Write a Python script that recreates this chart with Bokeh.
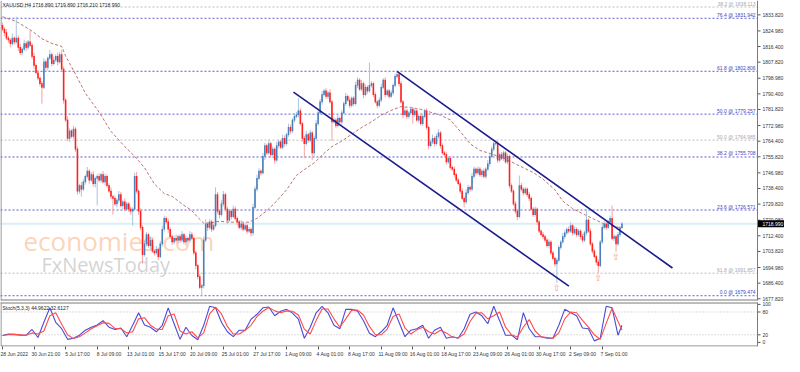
from bokeh.plotting import figure
from bokeh.layouts import column
from bokeh.models import ColumnDataSource, Label, FixedTicker, Range1d
from bokeh.core.properties import value
from bokeh.embed import file_html
from bokeh.resources import INLINE

# ---------------- data (XAUUSD H4) ----------------
first_open = 1828.0
closes = [
    1826, 1824, 1821, 1820, 1818, 1821, 1819, 1821, 1816, 1813,
    1815, 1818, 1816, 1819, 1817, 1811, 1806, 1802, 1799, 1796,
    1794, 1808, 1805, 1810, 1812, 1807, 1809, 1811, 1808, 1812,
    1804, 1787, 1776, 1766, 1770, 1767, 1771, 1760, 1737, 1740,
    1738, 1742, 1745, 1748, 1743, 1746, 1741, 1744, 1745, 1743,
    1746, 1742, 1745, 1740, 1737, 1734, 1733, 1730, 1732, 1735,
    1729, 1731, 1727, 1730, 1727, 1726, 1727, 1745, 1737, 1726,
    1717, 1702, 1708, 1713, 1707, 1710, 1704, 1703, 1705, 1701,
    1708, 1716, 1722, 1720, 1716, 1712, 1709, 1711, 1710, 1712,
    1710, 1713, 1709, 1711, 1710, 1713, 1711, 1703, 1696, 1690,
    1684, 1685, 1710, 1719, 1717, 1720, 1716, 1718, 1735, 1726,
    1724, 1730, 1735, 1727, 1721, 1726, 1723, 1727, 1722, 1720,
    1717, 1719, 1716, 1718, 1715, 1716, 1714, 1728, 1738, 1744,
    1748, 1747, 1756, 1762, 1758, 1763, 1757, 1760, 1754, 1762,
    1764, 1761, 1766, 1763, 1768, 1772, 1770, 1776, 1778, 1779,
    1781, 1774, 1766, 1763, 1768, 1765, 1769, 1758, 1766, 1774,
    1780, 1786, 1790, 1792, 1789, 1791, 1786, 1775, 1776, 1773,
    1777, 1775, 1780, 1785, 1789, 1787, 1784, 1788, 1785, 1795,
    1798, 1793, 1796, 1790, 1794, 1792, 1795, 1796, 1790, 1786,
    1784, 1787, 1794, 1798, 1790, 1792, 1789, 1791, 1795, 1800,
    1801, 1796, 1786, 1779, 1781, 1778, 1780, 1782, 1779, 1781,
    1776, 1778, 1774, 1778, 1781, 1772, 1762, 1764, 1766, 1763,
    1767, 1769, 1762, 1758, 1757, 1753, 1755, 1750, 1749, 1746,
    1743, 1741, 1737, 1733, 1731, 1736, 1739, 1738, 1745, 1749,
    1747, 1749, 1746, 1748, 1745, 1749, 1752, 1756, 1760, 1763,
    1763, 1754, 1757, 1755, 1758, 1753, 1756, 1740, 1737, 1730,
    1726, 1723, 1740, 1738, 1736, 1738, 1735, 1733, 1727, 1724,
    1727, 1720, 1715, 1713, 1712, 1710, 1707, 1709, 1703, 1700,
    1697, 1699, 1706, 1709, 1712, 1714, 1716, 1715, 1718, 1714,
    1716, 1713, 1715, 1712, 1710, 1714, 1721, 1715, 1708, 1704,
    1701, 1698, 1696, 1709, 1717, 1719, 1717, 1720, 1722, 1711,
    1712, 1708, 1713, 1716.89, 1718.99]
wick_up = [
    1.5, 1.0, 2.0, 1.2, 0.8, 2.5, 1.0, 11.8, 1.5, 2.0,
    1.0, 2.2, 1.5, 1.0, 6.0, 1.2, 2.0, 1.0, 1.5, 0.8,
    1.5, 2.0, 1.2, 1.0, 2.5, 1.0, 1.8, 1.2, 2.0, 1.5,
    2.5, 1.5, 1.0, 2.0, 1.5, 1.0, 2.0, 1.2, 1.5, 1.0,
    2.0, 1.5, 1.0, 2.2, 1.0, 1.5, 2.0, 1.0, 1.2, 1.8,
    1.0, 2.0, 1.5, 1.0, 1.2, 2.0, 1.0, 1.5, 1.0, 2.0,
    1.5, 1.0, 2.0, 1.2, 1.0, 1.5, 1.0, 2.0, 2.5, 1.0,
    1.5, 1.2, 2.0, 1.5, 1.0, 2.0, 1.2, 1.0, 1.8, 1.0,
    1.5, 2.0, 1.5, 1.0, 2.0, 1.2, 1.0, 1.5, 2.0, 1.0,
    1.2, 2.0, 1.0, 1.5, 1.0, 2.0, 1.5, 1.0, 1.2, 1.0,
    1.5, 1.0, 2.0, 2.5, 1.0, 1.5, 1.2, 1.0, 4.0, 1.5,
    1.0, 2.0, 2.0, 1.0, 1.5, 1.2, 1.0, 2.0, 1.5, 1.0,
    1.2, 2.0, 1.0, 1.5, 1.0, 1.2, 1.0, 2.0, 1.5, 2.0,
    1.5, 1.0, 2.0, 1.5, 1.0, 2.5, 1.0, 1.5, 1.0, 2.0,
    1.2, 1.0, 2.0, 1.5, 1.0, 2.0, 1.5, 1.0, 2.0, 1.5,
    7.0, 1.5, 1.0, 1.2, 2.0, 1.0, 1.5, 1.0, 1.5, 2.0,
    1.0, 1.5, 2.0, 1.0, 1.5, 1.0, 2.0, 1.0, 1.5, 1.0,
    2.0, 1.0, 1.5, 1.2, 2.0, 1.0, 1.5, 1.0, 1.2, 2.0,
    1.5, 1.0, 2.0, 1.0, 1.5, 1.0, 12.6, 1.5, 1.0, 1.2,
    1.0, 1.5, 2.0, 1.0, 1.5, 1.0, 1.2, 1.5, 1.0, 1.5,
    1.8, 1.0, 1.5, 1.0, 2.0, 1.2, 1.0, 1.5, 1.0, 1.2,
    1.5, 1.0, 2.0, 1.0, 1.2, 1.5, 1.0, 1.2, 2.0, 1.0,
    1.5, 2.0, 1.0, 1.2, 1.0, 1.5, 1.0, 1.2, 1.0, 1.5,
    1.0, 1.2, 1.0, 1.5, 1.0, 2.0, 1.5, 1.0, 2.0, 1.5,
    1.0, 1.5, 1.2, 1.0, 1.5, 1.0, 2.0, 1.2, 1.5, 1.0,
    2.0, 1.5, 1.0, 1.5, 1.2, 1.0, 1.5, 1.0, 1.2, 1.0,
    1.5, 1.0, 5.5, 1.5, 1.0, 1.2, 1.0, 1.5, 1.0, 1.2,
    1.5, 1.0, 1.2, 1.0, 1.5, 1.0, 1.2, 1.5, 1.0, 1.2,
    1.0, 1.5, 1.2, 1.0, 2.0, 1.5, 1.0, 1.5, 2.0, 1.0,
    1.5, 1.0, 1.2, 1.0, 1.5, 1.2, 6.0, 1.0, 1.5, 1.0,
    1.2, 1.0, 1.5, 1.2, 2.0, 1.5, 1.0, 1.2, 1.5, 7.0,
    1.2, 1.0, 1.5, 1.0, 0.9]
wick_dn = [
    1.2, 2.0, 1.0, 1.5, 2.0, 1.0, 1.5, 1.0, 2.0, 1.2,
    1.5, 1.0, 2.0, 1.2, 1.0, 1.5, 2.0, 1.0, 1.2, 1.5,
    9.0, 1.0, 1.5, 2.0, 1.0, 1.5, 1.0, 1.2, 2.0, 1.0,
    1.5, 2.0, 1.0, 1.5, 2.0, 1.0, 1.2, 1.5, 2.0, 1.5,
    4.0, 1.0, 1.5, 1.2, 2.0, 1.0, 1.5, 2.0, 15.0, 1.0,
    1.5, 1.0, 2.0, 1.2, 1.0, 1.5, 9.0, 1.0, 2.0, 1.5,
    1.0, 2.0, 1.2, 1.0, 1.5, 2.0, 8.0, 1.0, 1.5, 2.0,
    1.5, 5.0, 1.0, 1.5, 1.2, 2.0, 1.0, 1.5, 1.0, 2.0,
    1.0, 1.5, 1.2, 1.0, 2.0, 1.0, 1.5, 1.2, 1.0, 2.0,
    1.5, 1.0, 1.2, 2.0, 1.0, 1.5, 1.0, 1.2, 2.0, 1.5,
    1.0, 4.5, 1.5, 1.0, 2.0, 1.2, 1.5, 1.0, 1.0, 1.5,
    2.0, 1.0, 1.5, 1.2, 2.0, 1.0, 1.5, 1.0, 1.2, 2.0,
    1.0, 1.5, 1.2, 1.0, 1.5, 1.0, 2.0, 1.5, 1.0, 1.2,
    1.0, 1.5, 1.0, 2.0, 1.2, 1.0, 1.5, 1.0, 2.0, 1.2,
    1.5, 1.0, 1.2, 1.5, 1.0, 1.2, 1.5, 1.0, 1.2, 1.0,
    1.5, 1.0, 2.0, 8.0, 1.0, 1.5, 1.0, 4.0, 1.5, 1.0,
    1.2, 1.0, 1.5, 1.0, 1.2, 1.5, 1.0, 10.5, 1.0, 1.5,
    1.0, 1.2, 1.5, 1.0, 1.2, 1.0, 1.5, 1.0, 1.2, 1.0,
    1.5, 1.0, 1.2, 2.0, 1.0, 1.5, 1.0, 1.2, 1.5, 1.0,
    1.5, 1.0, 1.2, 1.0, 1.5, 1.0, 1.2, 1.0, 1.5, 1.0,
    1.2, 1.5, 1.0, 2.0, 1.0, 1.5, 1.2, 1.0, 5.0, 1.2,
    1.0, 1.5, 1.0, 1.2, 1.0, 1.5, 2.0, 1.0, 1.2, 1.5,
    1.0, 1.2, 1.5, 1.0, 1.2, 1.5, 1.0, 1.2, 1.0, 1.5,
    1.2, 1.0, 1.5, 1.0, 3.0, 1.2, 1.0, 1.5, 1.0, 1.2,
    1.5, 1.0, 1.2, 1.5, 1.0, 1.2, 1.0, 1.5, 1.0, 1.2,
    1.0, 1.5, 1.2, 1.0, 1.5, 1.0, 1.2, 1.5, 1.0, 1.2,
    1.5, 2.0, 1.0, 1.2, 1.5, 1.0, 1.2, 1.5, 1.0, 1.2,
    1.0, 1.5, 1.2, 1.0, 1.5, 1.2, 1.0, 1.5, 1.2, 1.0,
    1.5, 10.5, 1.0, 1.2, 1.0, 1.5, 1.0, 1.2, 1.0, 1.5,
    1.0, 1.2, 1.0, 1.5, 1.2, 1.0, 1.5, 1.0, 1.2, 1.5,
    1.0, 1.5, 4.1, 1.0, 1.2, 1.0, 1.5, 1.0, 1.2, 1.0,
    1.5, 4.4, 1.0, 1.2, 0.68]

ma_bars = [0, 7, 15, 20, 25, 30, 32, 37, 42, 49, 55, 62, 67, 72, 77, 82, 86, 91, 96, 99,
           102, 105, 110, 115, 120, 125, 129, 134, 139, 144, 149, 153, 158, 163, 167, 172,
           177, 182, 187, 192, 197, 202, 207, 212, 217, 222, 227, 232, 237, 242, 247, 254,
           259, 264, 269, 274, 280, 284, 289, 294, 299, 304, 308, 314]
ma_vals = [1832.8, 1830.2, 1824.9, 1820.7, 1818.1, 1816.5, 1811.2, 1801.3, 1790.8, 1780.3,
           1769.8, 1761.4, 1756.1, 1749.8, 1740.9, 1735.6, 1734.1, 1729.9, 1726.2, 1722.5,
           1719.4, 1719.4, 1720.4, 1719.9, 1719.9, 1719.9, 1722.0, 1726.2, 1731.5, 1737.7,
           1745.6, 1748.8, 1752.5, 1757.7, 1761.4, 1764.5, 1768.2, 1771.9, 1775.0, 1778.7,
           1781.3, 1783.4, 1782.9, 1781.9, 1780.3, 1778.7, 1776.1, 1769.8, 1763.0, 1759.3,
           1757.7, 1755.1, 1752.5, 1749.8, 1747.2, 1743.5, 1737.7, 1731.5, 1727.3, 1724.6,
           1722.0, 1719.4, 1717.8, 1716.8]

stoch_bars = list(range(0, 313, 3)) + [314]
stoch_k = [18, 22, 21, 19, 19, 34, 13, 53, 91, 53,
           36, 8, 11, 19, 32, 40, 46, 57, 40, 34,
           38, 15, 45, 78, 46, 40, 28, 45, 91, 49,
           8, 40, 18, 7, 45, 95, 91, 53, 28, 15,
           32, 32, 61, 74, 91, 93, 70, 82, 87, 77,
           61, 11, 40, 78, 95, 78, 45, 36, 87, 87,
           82, 57, 24, 15, 28, 45, 91, 53, 15, 32,
           36, 45, 11, 32, 40, 11, 15, 11, 36, 74,
           80, 70, 49, 95, 57, 19, 19, 7, 78, 36,
           15, 15, 11, 11, 45, 87, 78, 70, 38, 36,
           4, 11, 95, 91, 19, 44.96]
stoch_d = [18, 20, 21, 20, 19, 25, 22, 30, 70, 78,
           48, 20, 10, 15, 25, 36, 44, 52, 50, 37,
           36, 25, 28, 62, 65, 45, 35, 34, 70, 75,
           30, 22, 28, 12, 25, 75, 93, 75, 42, 22,
           22, 32, 45, 68, 82, 92, 83, 78, 83, 82,
           72, 35, 22, 58, 88, 88, 62, 40, 62, 85,
           85, 72, 42, 20, 20, 35, 68, 75, 38, 22,
           33, 40, 28, 22, 32, 25, 14, 12, 22, 55,
           77, 78, 62, 70, 80, 40, 20, 14, 40, 60,
           30, 15, 13, 11, 25, 62, 80, 78, 58, 40,
           20, 8, 50, 90, 55, 32.61]

price_ticks = [1677.82, 1686.40, 1694.98, 1703.82, 1712.40, 1720.98, 1729.82, 1738.40,
               1746.98, 1755.82, 1764.40, 1772.98, 1781.82, 1790.40, 1798.98, 1807.82,
               1816.40, 1824.98, 1833.82]
date_bars = [0, 16, 32, 48, 64, 80, 96, 112, 128, 144, 160, 176, 192, 208, 224, 240,
             256, 272, 288, 304]
date_labels = ["28 Jun 2022", "30 Jun 21:00", "5 Jul 17:00", "8 Jul 09:00", "13 Jul 01:00",
               "15 Jul 17:00", "20 Jul 09:00", "25 Jul 01:00", "27 Jul 17:00", "1 Aug 09:00",
               "4 Aug 01:00", "8 Aug 17:00", "11 Aug 09:00", "16 Aug 01:00", "18 Aug 17:00",
               "23 Aug 09:00", "26 Aug 01:00", "30 Aug 17:00", "2 Sep 09:00", "7 Sep 01:00"]

fib_levels = [1831.942, 1802.806, 1779.257, 1755.708, 1726.571, 1679.474]
fib_texts = ["76.4 @ 1831.942", "61.8 @ 1802.806", "50.0 @ 1779.257",
             "38.2 @ 1755.708", "23.6 @ 1726.571", "0.0 @ 1679.474"]
fib2_levels = [1838.113, 1764.985, 1691.857]
fib2_texts = ["38.2 @ 1838.113", "50.0 @ 1764.985", "61.8 @ 1691.857"]

upper_channel_x = [200, 339.6]
upper_channel_y = [1802.8, 1694.7]
lower_channel_x = [147.5, 287.1]
lower_channel_y = [1791.3, 1684.7]
fractal_bars = [281, 302, 311]
bid_price = 1718.99
bid_text = "1718.990"
stoch_levels = [20, 80]
stoch_ticks = [0, 20, 80, 100]

assert len(closes) == len(wick_up) == len(wick_dn) == 315
assert len(stoch_k) == len(stoch_d) == len(stoch_bars)

# ---------------- derived candle table ----------------
opens = [first_open] + closes[:-1]
idx = list(range(len(closes)))
highs = [max(o, c) + u for o, c, u in zip(opens, closes, wick_up)]
lows = [min(o, c) - d for o, c, d in zip(opens, closes, wick_dn)]
bull = [c >= o for o, c in zip(opens, closes)]
src = ColumnDataSource(dict(
    i=idx, o=opens, c=closes, h=highs, l=lows,
    top=[max(o, c) + 0.2 for o, c in zip(opens, closes)],
    bot=[min(o, c) - 0.2 for o, c in zip(opens, closes)],
    body=["#4a7fba" if b else "#ff2020" for b in bull],
    wick=["#a9c4e2" if b else "#f6a3a3" for b in bull],
))

# ---------------- geometry ----------------
FONT = "Liberation Sans"
TOTAL_W = 784           # whole canvas width (plot area + price scale)
PLOT_W = 757            # width of the chart area left of the price scale
X0, PLOT_END = -1.0, 382.7
PPB = PLOT_W / (PLOT_END - X0)            # pixels per bar
X_END = X0 + TOTAL_W / PPB
Y0, Y1 = 1676.85, 1841.7                   # chart window (border at Y0)
PPY = 300 / (Y1 - Y0)
MAIN_H = 301                               # 1px of room under the border
S_H = 45
SY0, SY1 = -10.8, 105.0                    # stochastic window (border at SY1)
SPPY = 44 / (SY1 - SY0)
BORDER = "#7a7a7a"
TICK_DX = 3 / PPB
LAB_DX = 5 / PPB

XR = Range1d(X0, X_END)


def price_scale(fig, ticks, labels, ylo, yhi, ppy, top_border=False):
    """MetaTrader-like price scale drawn right of the chart area."""
    n = len(ticks)
    fig.segment(x0=[PLOT_END] * n, x1=[PLOT_END + TICK_DX] * n, y0=ticks, y1=ticks,
                line_color="#555555", line_width=1)
    fig.text(x=[PLOT_END + LAB_DX] * n, y=ticks, text=labels, text_align="left",
             text_baseline="middle", text_font=value(FONT), text_font_size="5px",
             text_color="#333333")
    hx = 0.5 / PPB
    hy = 0.5 / ppy
    xs0 = [X0 + hx, X0 + hx, PLOT_END]
    xs1 = [X0 + hx, PLOT_END, PLOT_END]
    ys0 = [ylo, ylo + hy, ylo]
    ys1 = [yhi, ylo + hy, yhi]
    if top_border:
        xs0.append(X0)
        xs1.append(PLOT_END)
        ys0.append(yhi - hy)
        ys1.append(yhi - hy)
    fig.segment(x0=xs0, x1=xs1, y0=ys0, y1=ys1, line_color=BORDER, line_width=1)


# ---------------- main chart ----------------
p = figure(frame_width=TOTAL_W, frame_height=MAIN_H, x_range=XR,
           y_range=Range1d(Y0 - 1 / PPY, Y1),
           output_backend="svg", toolbar_location=None, x_axis_location=None,
           y_axis_location=None, min_border=0,
           background_fill_color="white", border_fill_color="white",
           outline_line_color=None)
p.grid.visible = False

# watermark
p.add_layout(Label(x=23, y=43, x_units="screen", y_units="screen", text="economies.com",
                   text_font="Open Sans", text_font_size="26px", text_color="#fbcdae",
                   text_alpha=0.85, level="underlay"))
p.add_layout(Label(x=41, y=24, x_units="screen", y_units="screen", text="FxNewsToday",
                   text_font="Open Sans", text_font_size="20px", text_color="#cccccc",
                   text_alpha=0.85, level="underlay"))

# bid line and fibonacci levels (limited to the chart area)
p.segment(x0=[X0], x1=[PLOT_END], y0=[bid_price], y1=[bid_price], line_color="#d9eff5",
          line_width=2)
nf, nf2 = len(fib_levels), len(fib2_levels)
p.segment(x0=[X0] * nf, x1=[PLOT_END] * nf, y0=fib_levels, y1=fib_levels,
          line_color="#5d5dd0", line_width=1, line_dash="2 2")
p.segment(x0=[X0] * nf2, x1=[PLOT_END] * nf2, y0=fib2_levels, y1=fib2_levels,
          line_color="#bdbdbd", line_width=1, line_dash="2 2")
x_lab = PLOT_END - 1.0
p.text(x=[x_lab] * nf, y=fib_levels, text=fib_texts, text_align="right",
       text_baseline="bottom", text_font=value(FONT), text_font_size="5px",
       text_color="#4343c0", y_offset=-0.5)
p.text(x=[x_lab] * nf2, y=fib2_levels, text=fib2_texts, text_align="right",
       text_baseline="bottom", text_font=value(FONT), text_font_size="5px",
       text_color="#a8a8a8", y_offset=-0.5)

# moving average
p.line(ma_bars, ma_vals, line_color="#b46460", line_width=1, line_dash="3 2", line_alpha=0.9)

# candles
p.segment(x0="i", y0="l", x1="i", y1="h", source=src, line_color="wick", line_width=1)
p.vbar(x="i", width=0.8, top="top", bottom="bot", source=src, fill_color="body",
       line_color=None)

# channel
p.line(upper_channel_x, upper_channel_y, line_color="#1c1c8c", line_width=1.6)
p.line(lower_channel_x, lower_channel_y, line_color="#1c1c8c", line_width=1.6)

# fractal arrows
p.text(x=fractal_bars, y=[lows[b] for b in fractal_bars], text=["\u21e7"] * len(fractal_bars),
       text_align="center", text_baseline="top", text_font=value("DejaVu Sans"),
       text_font_size="9px", text_color="#f29a9a")

# price scale
price_scale(p, price_ticks, [f"{t:.3f}" for t in price_ticks], Y0, Y1, PPY)

# current price box on the scale
box_h = 7 / PPY
p.quad(left=[PLOT_END + 0.5 / PPB], right=[X_END], bottom=[bid_price - box_h / 2],
       top=[bid_price + box_h / 2], fill_color="black", line_color=None)
p.text(x=[PLOT_END + LAB_DX], y=[bid_price], text=[bid_text], text_align="left",
       text_baseline="middle", text_font=value(FONT), text_font_size="5px",
       text_color="white")

# header
p.add_layout(Label(x=2, y=MAIN_H - 1, x_units="screen", y_units="screen",
                   text="XAUUSD,H4  1716.890 1719.890 1716.210 1718.990",
                   text_baseline="top", text_font=FONT, text_font_size="5px",
                   text_color="#222222"))

# ---------------- stochastic panel ----------------
s = figure(frame_width=TOTAL_W, frame_height=S_H, x_range=XR,
           y_range=Range1d(SY0, SY1 + 1 / SPPY),
           output_backend="svg", toolbar_location=None, y_axis_location=None,
           x_axis_location="below", min_border=0,
           background_fill_color="white", border_fill_color="white",
           outline_line_color=None)
s.grid.visible = False
ns = len(stoch_levels)
s.segment(x0=[X0] * ns, x1=[PLOT_END] * ns, y0=stoch_levels, y1=stoch_levels,
          line_color="#bdbdbd", line_width=1, line_dash="1 2")
s.line(stoch_bars, stoch_k, line_color="#4b4bd8", line_width=1.1)
s.line(stoch_bars, stoch_d, line_color="#ff4b4b", line_width=1.1)
s.add_layout(Label(x=2, y=S_H - 3, x_units="screen", y_units="screen",
                   text="Stoch(5,3,3) 44.9622 32.6127", text_baseline="top",
                   text_font=FONT, text_font_size="5px", text_color="#222222"))
price_scale(s, stoch_ticks, [str(t) for t in stoch_ticks], SY0, SY1, SPPY, top_border=True)

sx = s.xaxis[0]
centers = [b + 6 for b in date_bars]
sx.ticker = FixedTicker(ticks=centers, minor_ticks=date_bars)
sx.major_label_overrides = {c: t for c, t in zip(centers, date_labels)}
sx.major_label_text_font = FONT
sx.major_label_text_font_size = "5px"
sx.major_label_text_color = "#333333"
sx.major_tick_out = 0
sx.major_tick_in = 0
sx.minor_tick_out = 3
sx.minor_tick_in = 0
sx.minor_tick_line_color = "#555555"
sx.axis_line_color = None
sx.major_label_standoff = 1

layout = column(p, s, spacing=0)
open("out.html", "w").write(file_html(layout, INLINE, title="XAUUSD H4"))
